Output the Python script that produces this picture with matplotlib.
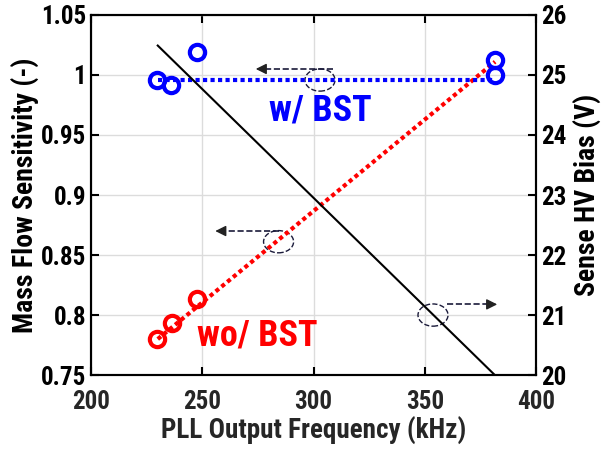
import matplotlib
matplotlib.use("Agg")
import matplotlib.pyplot as plt
from matplotlib.patches import Ellipse

plt.rcParams["font.family"] = ["Roboto Condensed", "Archivo Narrow", "Liberation Sans", "DejaVu Sans"]
plt.rcParams["font.weight"] = "bold"
plt.rcParams["axes.labelweight"] = "bold"

freq_bst = [229.7, 235.8, 247.5, 381.6, 381.6]
sens_bst = [0.996, 0.992, 1.019, 1.0125, 1.0]
fit_bst_x = [230, 381.6]
fit_bst_y = [0.996, 0.996]

freq_wo = [229.8, 236.2, 247.5]
sens_wo = [0.780, 0.793, 0.813]
fit_wo_x = [230, 381.6]
fit_wo_y = [0.780, 1.011]

bias_x = [230, 381.5]
bias_v = [25.49, 20.0]

x_ticks = [200, 250, 300, 350, 400]
left_ticks = [0.75, 0.8, 0.85, 0.9, 0.95, 1.0, 1.05]
right_ticks = [20, 21, 22, 23, 24, 25, 26]

fig = plt.figure(figsize=(6.05, 4.53), dpi=100)
ax = fig.add_axes([0.1504, 0.172, 0.7356, 0.795])
ax2 = ax.twinx()

ax.grid(True, color="#dcdcdc", lw=1)
ax.set_axisbelow(True)

ax.plot(fit_wo_x, fit_wo_y, color="red", lw=3, ls=(0, (1, 0.8)))
ax.plot(fit_bst_x, fit_bst_y, color="#0000ff", lw=3, ls=(0, (1, 0.8)))
ax.plot(freq_wo, sens_wo, "o", ms=11, mfc="none", mec="red", mew=3)
ax.plot(freq_bst, sens_bst, "o", ms=11, mfc="none", mec="#0000ff", mew=3)

ax2.plot(bias_x, bias_v, color="black", lw=1.5)

ax.set_xlim(200, 400)
ax.set_ylim(0.75, 1.05)
ax2.set_ylim(20, 26)
ax.set_xticks(x_ticks)
ax.set_yticks(left_ticks)
ax.set_yticklabels([f"{v:g}" for v in left_ticks])
ax2.set_yticks(right_ticks)

ax.tick_params(axis="both", direction="in", labelsize=18, width=1.5, length=6, top=True)
ax.tick_params(axis="x", labelcolor="#262626", pad=11)
ax2.tick_params(axis="y", direction="in", labelsize=18, width=1.5, length=6)
for a in (ax, ax2):
    for s in a.spines.values():
        s.set_linewidth(1.5)

ax.set_xlabel("PLL Output Frequency (kHz)", fontsize=19.5, color="#262626", labelpad=2)
ax.set_ylabel("Mass Flow Sensitivity (-)", fontsize=20, labelpad=1)
ax2.set_ylabel("Sense HV Bias (V)", fontsize=20, labelpad=5)

ax.text(302.9, 0.9705, "w/ BST", color="#0000ff", fontsize=26, ha="center", va="center")
ax.text(274.6, 0.783, "wo/ BST", color="red", fontsize=26, ha="center", va="center")

# 축 표시용 점선 타원과 화살표
ann_color = "#1a1a3a"
for cx, cy in [(302.9, 0.9958), (284.3, 0.8611), (353.7, 0.80)]:
    ax.add_patch(Ellipse((cx, cy), 13.5, 0.0185, fill=False, ls="--", lw=1, ec=ann_color))

for x0, x1, y in [(308.8, 272.8, 1.005), (284.7, 254.6, 0.87), (360.0, 383.8, 0.8089)]:
    d = 1 if x1 > x0 else -1
    ax.plot([x0, x1 - d * 3], [y, y], ls="--", lw=1.2, color=ann_color)
    ax.annotate("", xy=(x1, y), xytext=(x1 - d * 5, y),
                arrowprops=dict(arrowstyle="-|>", color="#222222", lw=1, mutation_scale=16))

fig.savefig("out.png", dpi=100)
